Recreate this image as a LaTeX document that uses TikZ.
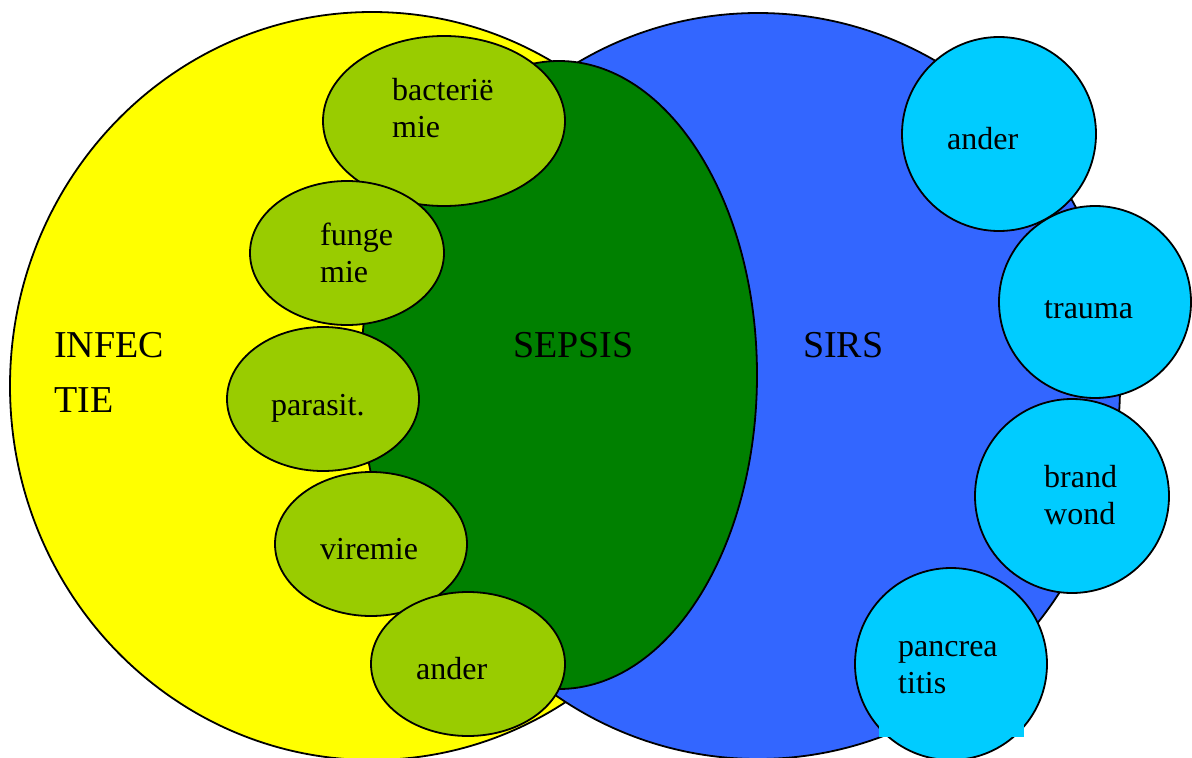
\documentclass[tikz,border=0pt]{standalone}
\usepackage{fontspec}
\setmainfont{Liberation Serif}
\definecolor{infgeel}{HTML}{FFFF00}
\definecolor{sirsblauw}{HTML}{3366FF}
\definecolor{sepsgroen}{HTML}{008000}
\definecolor{bronlime}{HTML}{99CC00}
\definecolor{oorzcyaan}{HTML}{00CCFF}
\begin{document}
\begin{tikzpicture}[x=1pt,y=-1pt,line cap=round,line join=round,
	rand/.style={draw=black,line width=1.8pt},
	groot/.style={anchor=base west,inner sep=0pt,align=left,font=\fontsize{38}{55}\selectfont},
	klein/.style={anchor=base west,inner sep=0pt,align=left,font=\fontsize{32}{37}\selectfont}]
				\useasboundingbox (0,0) rectangle (1192,758);
				\clip (0,0) rectangle (1192,758);
				% grote verzamelingen
				\draw [rand,fill=infgeel] (372,386) ellipse [x radius=362,y radius=374];
				\draw [rand,fill=sirsblauw] (758,386) ellipse [x radius=362,y radius=373];
				\draw [rand,fill=sepsgroen] (559,375) ellipse [x radius=198,y radius=314];
				% bronnen van infectie
				\draw [rand,fill=bronlime] (444,121) ellipse [x radius=121,y radius=85];
				\draw [rand,fill=bronlime] (347,253) ellipse [x radius=97,y radius=72];
				\draw [rand,fill=bronlime] (323,399) ellipse [x radius=96,y radius=72];
				\draw [rand,fill=bronlime] (371,544) ellipse [x radius=96,y radius=72];
				\draw [rand,fill=bronlime] (468,664) ellipse [x radius=97,y radius=72];
				% oorzaken van SIRS
				\draw [rand,fill=oorzcyaan] (999,134) circle (97);
				\draw [rand,fill=oorzcyaan] (1095,302) circle (96);
				\draw [rand,fill=oorzcyaan] (1072,496) circle (97);
				\draw [rand,fill=oorzcyaan] (951,664) circle (96);
				\fill [oorzcyaan] (879,690) rectangle (1024,737);
				% teksten (base = basislijn van de laatste regel)
				\node[groot] (infectie) at (54,412) {INFEC\\TIE};
				\node[groot] (sepsis) at (513,357) {SEPSIS};
				\node[groot] (sirs) at (803,357) {SIRS};
				\node[klein] (bact) at (392,137) {bacterië\\mie};
				\node[klein] (fung) at (320,282) {funge\\mie};
				\node[klein] (para) at (271,415) {parasit.};
				\node[klein] (vir) at (320,559) {viremie};
				\node[klein] (infander) at (416,679) {ander};
				\node[klein] (sirsander) at (947,149) {ander};
				\node[klein] (trauma) at (1044,318) {trauma};
				\node[klein] (brand) at (1044,524) {brand\\wond};
				\node[klein] (pancr) at (898,693) {pancrea\\titis};
			\end{tikzpicture}
\end{document}
